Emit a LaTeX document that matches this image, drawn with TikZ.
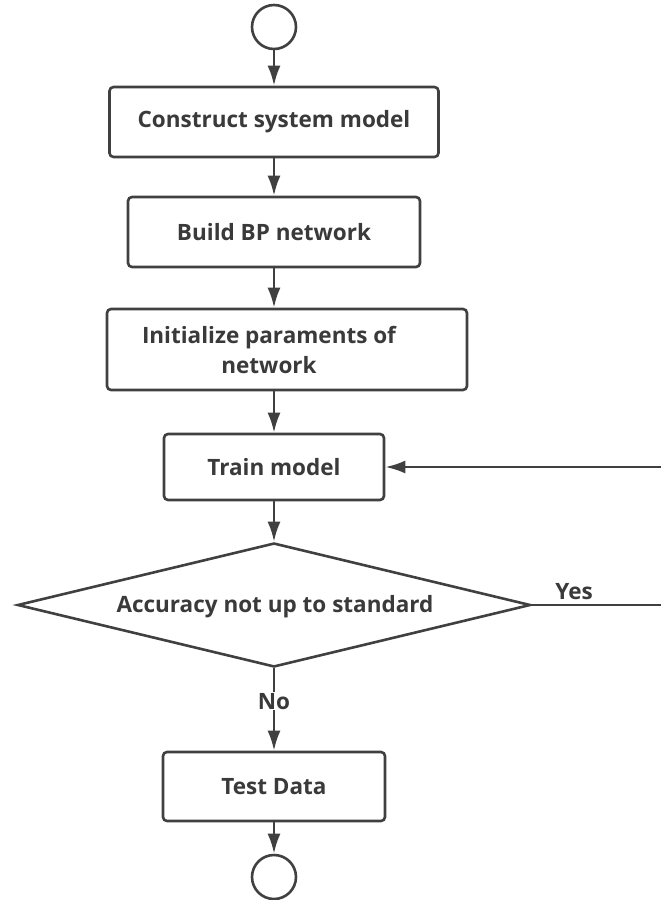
\documentclass[tikz,border=0pt]{standalone}
\usepackage{fontspec}
\setmainfont{Open Sans}
\usetikzlibrary{shapes.geometric, arrows.meta, positioning}
\definecolor{linegray}{HTML}{404040}
\definecolor{textgray}{HTML}{3A3A3A}

\begin{document}
\begin{tikzpicture}[x=1pt, y=-1pt,
	line/.style={draw=linegray, line width=2.6pt},
	arr/.style={line, -{Latex[length=20pt,width=13pt]}},
	box/.style={line, rectangle, rounded corners=4pt, fill=white, inner sep=0pt},
	txt/.style={text=textgray, font=\fontsize{22.5}{30}\selectfont\bfseries, align=center},
	ell/.style={line, circle, inner sep=0pt, minimum size=44pt},
	dia/.style={line, diamond, inner sep=0pt, aspect=4, minimum width=513pt, minimum height=124pt}]
\useasboundingbox (0,0) rectangle (661,900);
% start and end
\node [ell] (0) at (274,27) {};
\node [ell] (7) at (274,877) {};
% steps
\node [box, txt, minimum width=329pt, minimum height=70pt] (1) at (274,122) {Construct system model};
\node [box, txt, minimum width=292pt, minimum height=70pt] (2) at (274,232) {Build BP network};
\node [box, minimum width=360pt, minimum height=81pt] (3) at (287,349.5) {};
\node [txt] (3t) at (269,350) {Initialize paraments of\\network};
\node [box, txt, minimum width=220pt, minimum height=66pt] (4) at (274,467) {Train model};
\node [dia] (5) at (274,605) {};
\node [txt] (5t) at (275,607) {Accuracy not up to standard};
\node [box, txt, minimum width=222pt, minimum height=69pt] (6) at (274,786.5) {Test Data};
\coordinate (8) at (664,605);
% connectors
\draw [arr] (0) -- (1);
\draw [arr] (1) -- (2);
\draw [arr] (2) -- (2 |- 3.north);
\draw [arr] (2 |- 3.south) -- (4);
\draw [arr] (4) -- (5);
\draw [arr] (5.south) -- node [txt, fill=white, pos=0.4, inner sep=1pt] (no) {No} (6.north);
\draw [arr] (6) -- (7);
\draw [arr] (5.east) -- (8) |- (4.east);
\node [txt, above right=2pt and 20pt of 5.east] (yes) {Yes};
\end{tikzpicture}
\end{document}
